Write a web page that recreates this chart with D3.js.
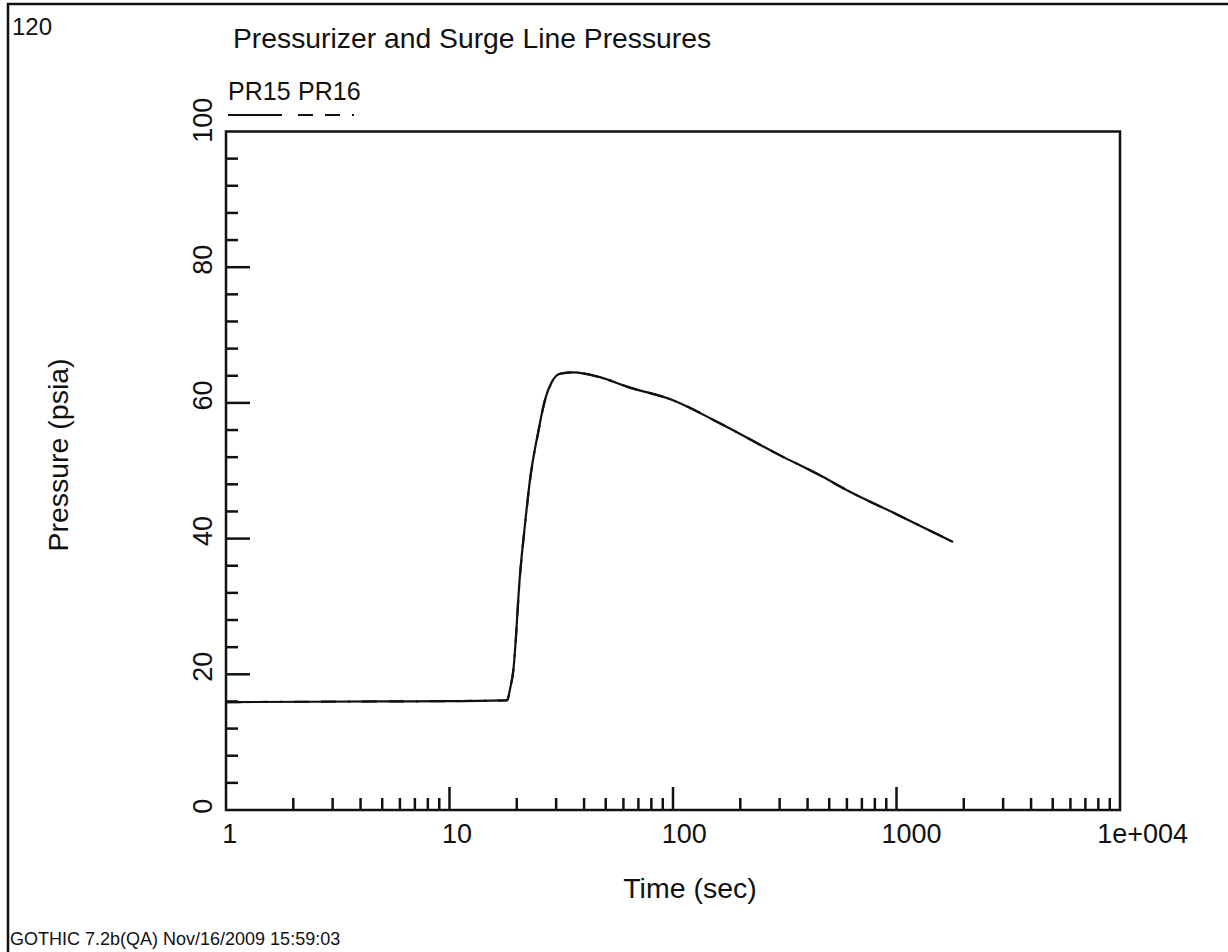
<!DOCTYPE html>
<html>
<head>
<meta charset="utf-8">
<script src="https://cdn.jsdelivr.net/npm/d3@7"></script>
<style>
  body { margin: 0; background: #fff; }
  text { font-family: "Liberation Sans", Arial, sans-serif; fill: #111; }
</style>
</head>
<body>
<div id="container"></div>
<script>
/* CONSTANTS AND GLOBALS */
const width = 1228,
  height = 952,
  margin = { top: 131.5, bottom: 142, left: 226, right: 108 };

/* DATA */
const times = [1, 5, 10, 18.1, 18.7, 19.3, 20.7, 21.8, 22.9, 24.9, 26.7, 28.7, 31.2, 35.7, 47.1, 62.2, 100, 162, 300, 450, 619, 1000, 1790];
const pr15 = [15.9, 16.0, 16.05, 16.2, 18.0, 20.6, 34.9, 42.3, 48.6, 55.6, 60.4, 63.1, 64.3, 64.5, 63.8, 62.4, 60.4, 57.0, 52.3, 49.4, 46.9, 43.6, 39.5];
const pr16 = [15.9, 16.0, 16.05, 16.15, 17.9, 20.5, 34.8, 42.2, 48.5, 55.5, 60.3, 63.0, 64.3, 64.5, 63.8, 62.4, 60.4, 57.0, 52.3, 49.4, 46.9, 43.6, 39.5];
const seriesNames = ["PR15", "PR16"];
const xTickLabels = ["1", "10", "100", "1000", "1e+004"];
const yTickLabels = ["0", "20", "40", "60", "80", "100"];

const svg = d3.select("#container")
  .append("svg")
  .attr("width", width)
  .attr("height", height);

// outer page frame (runs off the right and bottom edge)
svg.append("rect")
  .attr("x", 8).attr("y", 4)
  .attr("width", 1240).attr("height", 960)
  .attr("fill", "none")
  .attr("stroke", "#111")
  .attr("stroke-width", 2.5);

// + SCALES
const xScale = d3.scaleLog()
  .domain([1, 10000])
  .range([margin.left, width - margin.right]);

const yScale = d3.scaleLinear()
  .domain([0, 100])
  .range([height - margin.bottom, margin.top]);

// plot frame
svg.append("rect")
  .attr("x", margin.left).attr("y", margin.top)
  .attr("width", xScale(10000) - margin.left)
  .attr("height", yScale(0) - margin.top)
  .attr("fill", "none")
  .attr("stroke", "#111")
  .attr("stroke-width", 2.5);

// + X TICKS (inward)
const xMinor = [];
[1, 10, 100, 1000].forEach(dec => {
  for (let k = 2; k <= 9; k++) xMinor.push(dec * k);
});
svg.append("g").selectAll("line")
  .data(xMinor)
  .join("line")
  .attr("x1", d => xScale(d)).attr("x2", d => xScale(d))
  .attr("y1", yScale(0)).attr("y2", yScale(0) - 12)
  .attr("stroke", "#111").attr("stroke-width", 2.5);

svg.append("g").selectAll("line")
  .data([10, 100, 1000])
  .join("line")
  .attr("x1", d => xScale(d)).attr("x2", d => xScale(d))
  .attr("y1", yScale(0)).attr("y2", yScale(0) - 23)
  .attr("stroke", "#111").attr("stroke-width", 2.5);

// x tick labels, anchored at a quarter of their length
svg.append("g").selectAll("text")
  .data(xTickLabels)
  .join("text")
  .attr("y", 843)
  .attr("font-size", 27)
  .text(d => d)
  .attr("x", function(d, i) {
    return xScale(Math.pow(10, i)) - 0.25 * this.getComputedTextLength();
  });

// + Y TICKS (inward)
const yMinor = d3.range(4, 100, 4).filter(d => d % 20 !== 0);
svg.append("g").selectAll("line")
  .data(yMinor)
  .join("line")
  .attr("x1", margin.left).attr("x2", margin.left + 12)
  .attr("y1", d => yScale(d)).attr("y2", d => yScale(d))
  .attr("stroke", "#111").attr("stroke-width", 2.5);

svg.append("g").selectAll("line")
  .data([20, 40, 60, 80])
  .join("line")
  .attr("x1", margin.left).attr("x2", margin.left + 24)
  .attr("y1", d => yScale(d)).attr("y2", d => yScale(d))
  .attr("stroke", "#111").attr("stroke-width", 2.5);

svg.append("g").selectAll("text")
  .data(yTickLabels)
  .join("text")
  .attr("transform", d => `translate(212, ${yScale(+d)}) rotate(-90)`)
  .attr("font-size", 27)
  .text(d => d)
  .attr("x", function() { return -0.25 * this.getComputedTextLength(); });

// + TITLES
svg.append("text")
  .attr("x", 12).attr("y", 35)
  .attr("font-size", 24)
  .text("120");

svg.append("text")
  .attr("x", 233).attr("y", 48)
  .attr("font-size", 28.3)
  .text("Pressurizer and Surge Line Pressures");

svg.append("text")
  .attr("transform", "translate(68, 455) rotate(-90)")
  .attr("text-anchor", "middle")
  .attr("font-size", 28.5)
  .text("Pressure (psia)");

svg.append("text")
  .attr("x", 690).attr("y", 898)
  .attr("text-anchor", "middle")
  .attr("font-size", 28.5)
  .text("Time (sec)");

svg.append("text")
  .attr("x", 10).attr("y", 945)
  .attr("font-size", 18)
  .text("GOTHIC 7.2b(QA) Nov/16/2009 15:59:03");

// + LEGEND
svg.append("text")
  .attr("x", 228).attr("y", 100)
  .attr("font-size", 25)
  .text(seriesNames[0]);
svg.append("text")
  .attr("x", 298).attr("y", 100)
  .attr("font-size", 25)
  .text(seriesNames[1]);

svg.append("line")
  .attr("x1", 228).attr("x2", 282)
  .attr("y1", 115).attr("y2", 115)
  .attr("stroke", "#111").attr("stroke-width", 2.2);
svg.append("line")
  .attr("x1", 298).attr("x2", 354)
  .attr("y1", 115).attr("y2", 115)
  .attr("stroke", "#111").attr("stroke-width", 2.2)
  .attr("stroke-dasharray", "15,12,15,12,2,100");

// + LINES
const lineGen = d3.line()
  .x(d => xScale(d[0]))
  .y(d => yScale(d[1]))
  .curve(d3.curveMonotoneX);

svg.append("path")
  .datum(times.map((t, i) => [t, pr15[i]]))
  .attr("d", lineGen)
  .attr("fill", "none")
  .attr("stroke", "#111")
  .attr("stroke-width", 2.2)
  .attr("stroke-linejoin", "round");

svg.append("path")
  .datum(times.map((t, i) => [t, pr16[i]]))
  .attr("d", lineGen)
  .attr("fill", "none")
  .attr("stroke", "#111")
  .attr("stroke-width", 2.2)
  .attr("stroke-dasharray", "15,12,15,12,2,12")
  .attr("stroke-linejoin", "round");
</script>
</body>
</html>
